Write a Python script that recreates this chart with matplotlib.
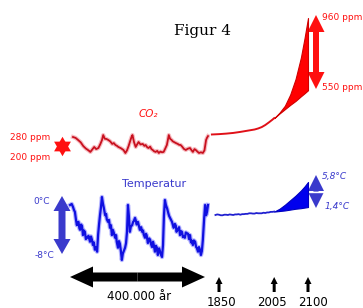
import matplotlib
matplotlib.use('Agg')
import matplotlib.pyplot as plt
from matplotlib.patches import FancyArrow

# ice core record (thousand years before present)
ice_co2_age = [420, 412, 404, 396, 388, 380, 372, 366, 360, 354, 348, 341, 335, 330, 326, 321, 316,
               310, 304, 298, 293, 288, 283, 279, 272, 267, 263, 257, 252, 247, 242, 238, 235, 230,
               225, 220, 216, 210, 203, 198, 194, 189, 185, 180, 176, 172, 168, 163, 158, 153, 148,
               143, 138, 133, 128, 125, 122, 118, 113, 110, 106, 100, 94, 90, 85, 80, 75, 69, 63,
               56, 51, 47, 42, 38, 33, 28, 22, 16, 11, 6, 3, 0]
ice_co2 = [280, 275, 263, 250, 229, 215, 205, 196, 210, 224, 212, 218, 240, 262, 291, 270, 269,
           263, 255, 241, 246, 235, 230, 224, 218, 212, 207, 190, 205, 229, 258, 280, 291, 250,
           224, 240, 252, 238, 241, 230, 235, 222, 218, 226, 212, 207, 200, 196, 202, 190, 198,
           194, 196, 215, 235, 262, 291, 270, 263, 256, 252, 246, 241, 236, 235, 225, 213, 207, 214,
           218, 205, 196, 212, 207, 198, 190, 194, 190, 205, 263, 276, 285]

ice_t_age = [429, 424, 420, 417, 414, 411, 408, 405, 403, 400, 398, 395, 392, 389, 386, 383, 380,
             376, 372, 367, 364, 361, 358, 355, 352, 348, 345, 342, 339, 336, 333, 330, 327, 324,
             320, 317, 315, 311, 308, 305, 302, 299, 296, 292, 289, 286, 284, 280, 277, 274, 271,
             268, 265, 262, 258, 255, 252, 249, 246, 243, 240, 236, 233, 231, 227, 224, 222, 218,
             215, 212, 208, 205, 202, 200, 196, 193, 191, 187, 183, 180, 177, 174, 171, 169, 165,
             162, 159, 156, 152, 149, 146, 143, 140, 137, 134, 131, 127, 124, 121, 118, 115, 112,
             107, 103, 100, 98, 93, 90, 87, 84, 81, 78, 76, 72, 69, 66, 62, 59, 56, 53, 51, 47, 44,
             40, 37, 35, 31, 28, 25, 22, 19, 16, 12, 9, 6, 3, 0]
ice_t = [-0.45, -0.3, -0.75, -1.2, -1.5, -2.6, -3.5, -3.1, -3.0, -4.0, -4.2, -3.4, -3.6, -5.0, -4.3,
         -4.5, -5.6, -5.4, -5.1, -6.0, -5.2, -5.7, -6.5, -6.1, -7.2, -6.8, -7.5, -5.0, -3.4, -2.0,
         -0.8, 0.75, -0.2, -0.9, -2.0, -1.8, -2.6, -3.0, -2.7, -3.9, -3.5, -5.0, -4.2, -4.8, -5.4,
         -5.0, -6.0, -6.9, -5.9, -6.3, -7.4, -8.75, -7.8, -7.4, -6.9, -6.2, -4.5, -0.45, -2.2,
         -4.5, -3.7, -3.5, -3.0, -2.9, -2.4, -2.9, -3.4, -3.0, -3.6, -4.2, -3.8, -4.5, -4.3, -4.9,
         -5.4, -4.8, -5.0, -6.2, -5.5, -5.7, -6.4, -6.8, -6.0, -6.4, -7.5, -6.6, -6.9, -8.0, -7.0,
         -7.5, -8.0, -8.3, -6.5, -2.0, 0.3, -0.45, -1.0, -1.6, -2.1, -2.4, -2.7, -3.0, -3.9, -3.3,
         -3.6, -4.5, -4.1, -3.8, -5.0, -4.4, -4.5, -5.3, -5.2, -5.4, -4.6, -4.7, -4.8, -5.6, -5.0,
         -6.1, -5.8, -6.5, -5.8, -6.0, -6.8, -6.9, -7.5, -6.8, -7.2, -8.0, -7.4, -5.7, -2.5, -0.45,
         -2.0, -1.5, -0.45]

# instrumental period and projections
co2_years = [1830, 1850, 1870, 1890, 1910, 1930, 1950, 1960, 1970, 1980, 1990, 2000, 2005]
co2_hist = [283, 285, 288, 292, 298, 305, 312, 318, 326, 338, 353, 369, 378]
temp_years = [1840, 1845, 1850, 1855, 1860, 1865, 1870, 1875, 1880, 1885, 1890, 1895, 1900, 1905,
              1910, 1915, 1920, 1925, 1930, 1935, 1940, 1945, 1950, 1955, 1960, 1965, 1970, 1975,
              1980, 1985, 1990, 1995, 2000, 2005]
temp_hist = [0.0, 0.1, 0.05, -0.05, -0.05, 0.05, 0.05, 0.0, 0.1, 0.05, 0.0, 0.1, 0.1, 0.15, 0.05,
             0.15, 0.15, 0.2, 0.2, 0.3, 0.3, 0.25, 0.25, 0.35, 0.3, 0.3, 0.3, 0.4, 0.35, 0.45, 0.45,
             0.55, 0.55, 0.6]
proj_years = [2005, 2020, 2035, 2050, 2065, 2080, 2090, 2100]
co2_high = [378, 410, 450, 515, 605, 730, 840, 960]
co2_low = [378, 405, 430, 455, 478, 505, 522, 540]
temp_high = [0.6, 1.1, 1.8, 2.6, 3.4, 4.3, 5.0, 5.8]
temp_low = [0.6, 0.7, 0.8, 0.95, 1.1, 1.2, 1.3, 1.4]

marked_years = [1850, 2005, 2100]
year_label_shift = [2, -2, 5]

W, H = 363, 308
fig = plt.figure(figsize=(W / 100, H / 100), dpi=100)

# overlay in pixel units for labels and arrows
ax0 = fig.add_axes([0, 0, 1, 1])
ax0.set_xlim(0, W)
ax0.set_ylim(H, 0)
ax0.axis('off')


def panel(x_ref, x_px, y_ref, y_px, xlim, ylim):
    # axes placed so that the two reference values land on the given pixels
    def fx(v):
        return x_px[0] + (v - x_ref[0]) * (x_px[1] - x_px[0]) / (x_ref[1] - x_ref[0])

    def fy(v):
        return y_px[0] + (v - y_ref[0]) * (y_px[1] - y_px[0]) / (y_ref[1] - y_ref[0])
    left, right = fx(xlim[0]), fx(xlim[1])
    top, bottom = fy(ylim[1]), fy(ylim[0])
    ax = fig.add_axes([left / W, 1 - bottom / H, (right - left) / W, (bottom - top) / H])
    ax.set_xlim(xlim)
    ax.set_ylim(ylim)
    ax.axis('off')
    return ax


ax_ico2 = panel((420, 0), (73, 208), (280, 190), (137, 153), (440, -5), (150, 340))
ax_it = panel((420, 0), (73, 208), (0, -8), (202, 255), (440, -5), (-11, 3))
ax_mco2 = panel((1850, 2100), (219, 308), (280, 960), (135, 18), (1800, 2115), (250, 1000))
ax_mt = panel((1850, 2100), (219, 308), (0, 5.8), (215, 182), (1800, 2115), (-1.5, 7))

red = '#ff1010'
blue = '#3a3acc'

# soft halo under the ice core lines, like the blurry original
ax_ico2.plot(ice_co2_age, ice_co2, color='#e84050', lw=3.0, alpha=0.35)
ax_ico2.plot(ice_co2_age, ice_co2, color='#c8101e', lw=1.3)
ax_it.plot(ice_t_age, ice_t, color='#3030ff', lw=3.2, alpha=0.35)
ax_it.plot(ice_t_age, ice_t, color='#1010e0', lw=1.6)

ax_mco2.plot(co2_years, co2_hist, color='#e01018', lw=1.4)
ax_mco2.fill_between(proj_years, co2_low, co2_high, color='#ff0000', lw=0.8, edgecolor='#d00000')
ax_mt.plot(temp_years, temp_hist, color='#2020d0', lw=1.3)
ax_mt.fill_between(proj_years, temp_low, temp_high, color='#0000ee', lw=0.8, edgecolor='#0000c0')


def double_arrow(ax, x0, y0, x1, y1, width, head_w, head_l, color):
    cx, cy = (x0 + x1) / 2, (y0 + y1) / 2
    for ex, ey in [(x0, y0), (x1, y1)]:
        ax.add_patch(FancyArrow(cx, cy, ex - cx, ey - cy, width=width, head_width=head_w,
                                head_length=head_l, length_includes_head=True,
                                color=color, lw=0))


ax0.text(203, 31, 'Figur 4', family='DejaVu Serif', fontsize=11, ha='center', va='center')

ax0.text(148, 114, 'CO₂', color=red, style='italic', fontsize=7.5, ha='center', va='center')
ax0.text(154, 184, 'Temperatur', color=blue, fontsize=8, ha='center', va='center')

ax0.text(30, 137, '280 ppm', color=red, fontsize=6.5, ha='center', va='center')
ax0.text(30, 157, '200 ppm', color=red, fontsize=6.5, ha='center', va='center')
ax0.plot(62, 146, marker=(3, 0, 0), ms=14, color=red, mew=0)
ax0.plot(62, 146, marker=(3, 0, 180), ms=14, color=red, mew=0)

ax0.text(42, 202, '0°C', color=blue, fontsize=6.5, ha='center', va='center')
ax0.text(44, 255, '-8°C', color=blue, fontsize=6.5, ha='center', va='center')
double_arrow(ax0, 62, 196, 62, 254, 7, 17, 15, blue)

double_arrow(ax0, 70, 277, 205, 277, 9, 21, 23, 'black')
ax0.text(139, 297, '400.000 år', fontsize=8.5, ha='center', va='center')

double_arrow(ax0, 316, 15, 316, 89, 6, 17, 17, red)
ax0.text(342, 17, '960 ppm', color=red, fontsize=6.5, ha='center', va='center')
ax0.text(342, 88, '550 ppm', color=red, fontsize=6.5, ha='center', va='center')

double_arrow(ax0, 316, 175, 316, 208, 5, 16, 16, blue)
ax0.plot([309, 323], [191.5, 191.5], color='white', lw=1)
ax0.text(334, 177, '5,8°C', color=blue, style='italic', fontsize=6.5, ha='center', va='center')
ax0.text(337, 206, '1,4°C', color=blue, style='italic', fontsize=6.5, ha='center', va='center')

# year markers follow the x scale of the modern panel
for yr, shift in zip(marked_years, year_label_shift):
    xp = ax_mco2.transData.transform((yr, 300))[0]
    ax0.add_patch(FancyArrow(xp, 292, 0, -15, width=3, head_width=7, head_length=7,
                             length_includes_head=True, color='black', lw=0))
    ax0.text(xp + shift, 302, str(yr), fontsize=8.5, ha='center', va='center')

fig.savefig('out.png', dpi=100)
